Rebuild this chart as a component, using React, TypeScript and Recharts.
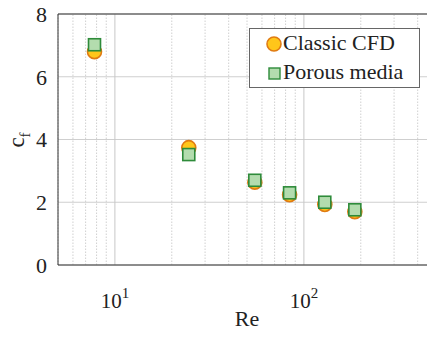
import React from 'react';
import {
  ScatterChart,
  Scatter,
  XAxis,
  YAxis,
  CartesianGrid,
  ReferenceLine,
  Label,
} from 'recharts';

const reynolds = [7.8, 24.6, 55, 84, 129, 186];
const classicCfd = [6.8, 3.74, 2.64, 2.24, 1.93, 1.7];
const porousMedia = [7.02, 3.52, 2.7, 2.3, 2.0, 1.76];

const xTicks = [5, 6, 7, 8, 9, 10, 20, 30, 40, 50, 60, 70, 80, 90, 100, 200, 300, 400, 500];
const xMajor = [10, 100];
const yTicks = [0, 2, 4, 6, 8];

// no explicit family: the page default is already a serif (Times-like) font
const classicData = reynolds.map((re, i) => ({ re, cf: classicCfd[i] }));
const porousData = reynolds.map((re, i) => ({ re, cf: porousMedia[i] }));

const Circle = (props: any) => {
  const { cx, cy } = props;
  if (cx == null || cy == null) return null;
  return <circle cx={cx} cy={cy} r={7} fill="#ffc61a" stroke="#e07b12" strokeWidth={1.6} />;
};

const Square = (props: any) => {
  const { cx, cy } = props;
  if (cx == null || cy == null) return null;
  return (
    <rect x={cx - 6} y={cy - 6} width={12} height={12} fill="#b3dcae" stroke="#2e8b3a" strokeWidth={1.6} />
  );
};

const XTick = (props: any) => {
  const { x, y, payload } = props;
  const v = payload.value;
  if (!xMajor.includes(v)) return null;
  const exp = Math.round(Math.log10(v));
  return (
    <text x={x} y={y + 35} textAnchor="middle" fontSize={21} fill="#222">
      10
      <tspan dy={-10} fontSize={15}>{exp}</tspan>
    </text>
  );
};

const LegendBox = () => (
  <div
    style={{
      position: 'absolute',
      left: 249,
      top: 28,
      width: 171,
      height: 60,
      border: '1.5px solid #666',
      background: '#fff',
      fontSize: 22,
      color: '#222',
      boxSizing: 'border-box',
    }}
  >
    <svg width={20} height={58} style={{ position: 'absolute', left: 14, top: 0 }}>
      <circle cx={10} cy={15} r={7} fill="#ffc61a" stroke="#e07b12" strokeWidth={1.6} />
      <rect x={5} y={39} width={11} height={11} fill="#b3dcae" stroke="#2e8b3a" strokeWidth={1.4} />
    </svg>
    <div style={{ position: 'absolute', left: 33, top: 1, lineHeight: '26px', whiteSpace: 'nowrap' }}>
      Classic CFD
    </div>
    <div style={{ position: 'absolute', left: 33, top: 30, lineHeight: '26px', whiteSpace: 'nowrap' }}>
      Porous media
    </div>
  </div>
);

export default function App() {
  return (
    <div style={{ position: 'relative', margin: -8, width: 435, height: 337, overflow: 'hidden' }}>
      <ScatterChart width={440} height={337} margin={{ top: 14, right: 4, bottom: 0, left: 0 }}>
        <CartesianGrid vertical={false} stroke="#cfcfcf" strokeWidth={1.2} />
        {xTicks.map((t) => (
          <ReferenceLine
            key={t}
            x={t}
            stroke={xMajor.includes(t) ? '#c8c8c8' : '#d0d0d0'}
            strokeWidth={1}
            strokeDasharray={xMajor.includes(t) ? undefined : '1.5 1.5'}
          />
        ))}
        <ReferenceLine y={8} stroke="#333" strokeWidth={1.2} />
        <XAxis
          type="number"
          dataKey="re"
          scale="log"
          domain={[5, 500]}
          ticks={xTicks}
          allowDataOverflow
          height={72}
          stroke="#333"
          tickLine={false}
          tick={<XTick />}
          interval={0}
        >
          <Label
            content={() => (
              <text x={247} y={326} textAnchor="middle" fontSize={22} fill="#222">
                Re
              </text>
            )}
          />
        </XAxis>
        <YAxis
          type="number"
          dataKey="cf"
          domain={[0, 8]}
          ticks={yTicks}
          width={58}
          stroke="#333"
          tickLine={false}
          tick={{ fontSize: 22, fill: '#222', dx: -3 }}
          interval={0}
        >
          <Label
            content={() => (
              <text transform="translate(24,140) rotate(-90)" textAnchor="middle" fontSize={23} fill="#222">
                c
                <tspan dy={6} fontSize={15}>f</tspan>
              </text>
            )}
          />
        </YAxis>
        <Scatter name="Classic CFD" data={classicData} shape={<Circle />} isAnimationActive={false} />
        <Scatter name="Porous media" data={porousData} shape={<Square />} isAnimationActive={false} />
      </ScatterChart>
      <LegendBox />
    </div>
  );
}
